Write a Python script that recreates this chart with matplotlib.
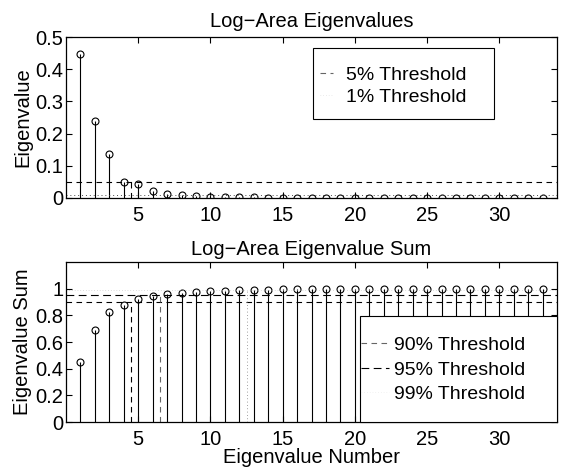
import matplotlib
matplotlib.use('Agg')
import matplotlib.pyplot as plt
import matplotlib.patches as mpatches
from matplotlib.lines import Line2D

plt.rcParams['font.family'] = ['Liberation Sans', 'DejaVu Sans']

# eigenvalue number 1..33
numero = list(range(1, 34))
autovalores = [0.448, 0.239, 0.137, 0.049, 0.043, 0.023, 0.011, 0.010, 0.007,
               0.004, 0.003, 0.002, 0.0015, 0.0012, 0.001, 0.0009, 0.0008,
               0.0007, 0.0006, 0.0005, 0.0005, 0.0004, 0.0004, 0.0003, 0.0003,
               0.0003, 0.0002, 0.0002, 0.0002, 0.0002, 0.0001, 0.0001, 0.0001]
suma = [0.448, 0.693, 0.829, 0.879, 0.927, 0.947, 0.960, 0.972, 0.977, 0.982,
        0.985, 0.990, 0.992, 0.994, 0.995, 0.996, 0.997, 0.997, 0.998, 0.998,
        0.998, 0.999, 0.999, 0.999, 0.999, 0.999, 1.0, 1.0, 1.0, 1.0, 1.0,
        1.0, 1.0]

umbral_sup = [0.05, 0.01]
etiq_sup = ['5% Threshold', '1% Threshold']
corte_sup = 4.5

umbral_inf = [0.90, 0.95, 0.99]
etiq_inf = ['90% Threshold', '95% Threshold', '99% Threshold']
corte_inf = [4.5, 6.5, 12.5]

xticks = [5, 10, 15, 20, 25, 30]
yticks_sup = [0, 0.1, 0.2, 0.3, 0.4, 0.5]
ylab_sup = ['0', '0.1', '0.2', '0.3', '0.4', '0.5']
yticks_inf = [0, 0.2, 0.4, 0.6, 0.8, 1.0]
ylab_inf = ['0', '0.2', '0.4', '0.6', '0.8', '1']

FS = 14.5
FS_LEY = 14
DASH = (0, (5, 4))
DASH_L = (0, (7, 4))
DOT = (0, (1, 3))

fig = plt.figure(figsize=(5.61, 4.69), dpi=100)
ax1 = fig.add_axes([0.1176, 0.578, 0.8754, 0.343])
ax2 = fig.add_axes([0.1176, 0.100, 0.8754, 0.341])


def estilo(ax, yt, yl, ylim):
    ax.set_xlim(0, 34)
    ax.set_ylim(*ylim)
    ax.set_xticks(xticks)
    ax.set_yticks(yt)
    ax.set_yticklabels(yl)
    ax.tick_params(direction='in', top=True, right=True, length=4,
                   width=0.8, labelsize=FS)
    ax.tick_params(axis='x', pad=6)
    ax.tick_params(axis='y', pad=2)
    for s in ax.spines.values():
        s.set_linewidth(0.9)


def tallos(ax, x, y):
    ml, sl, bl = ax.stem(x, y, linefmt='k-', markerfmt='ko', basefmt=' ')
    sl.set_linewidth(0.8)
    ml.set_markerfacecolor('none')
    ml.set_markersize(5)
    ml.set_markeredgewidth(0.8)


def caja(ax, x0, y0, x1, y1):
    ax.add_patch(mpatches.Rectangle((x0, y0), x1 - x0, y1 - y0,
                                    transform=ax.transAxes, facecolor='white',
                                    edgecolor='k', linewidth=0.8, zorder=5,
                                    clip_on=False))


# ---- top panel
tallos(ax1, numero, autovalores)
ax1.axhline(umbral_sup[0], color='k', lw=0.8, ls=DASH)
ax1.axhline(umbral_sup[1], color='0.3', lw=0.7, ls=DOT)
ax1.plot([corte_sup, corte_sup], [0, umbral_sup[0]], color='k', lw=0.8, ls=DASH)
estilo(ax1, yticks_sup, ylab_sup, (0, 0.5))
ax1.set_title('Log\u2212Area Eigenvalues', fontsize=FS, pad=7)
ax1.set_ylabel('Eigenvalue', fontsize=FS, labelpad=2)
caja(ax1, 0.503, 0.49, 0.872, 0.932)
h1 = [Line2D([0], [0], color='0.4', lw=0.8, ls=DASH),
      Line2D([0], [0], color='0.85', lw=0.5, ls=DOT)]
ley1 = ax1.legend(h1, etiq_sup, loc='upper left', bbox_to_anchor=(0.517, 0.82),
                  fontsize=FS_LEY, frameon=False, borderpad=0,
                  handlelength=0.7, handletextpad=0.65, labelspacing=0.22,
                  borderaxespad=0)
ley1.set_zorder(6)

# ---- bottom panel
tallos(ax2, numero, suma)
ax2.axhline(umbral_inf[0], color='k', lw=0.8, ls=DASH)
ax2.axhline(umbral_inf[1], color='k', lw=0.8, ls=DASH_L)
ax2.axhline(umbral_inf[2], color='0.75', lw=0.5, ls=DOT)
ax2.plot([corte_inf[0], corte_inf[0]], [0, umbral_inf[0]], color='k', lw=0.8, ls=DASH)
ax2.plot([corte_inf[1], corte_inf[1]], [0, umbral_inf[1]], color='0.4', lw=0.8, ls=DASH)
ax2.plot([corte_inf[2], corte_inf[2]], [0, umbral_inf[2]], color='0.5', lw=0.6, ls=DOT)
estilo(ax2, yticks_inf, ylab_inf, (0, 1.2))
ax2.set_title('Log\u2212Area Eigenvalue Sum', fontsize=FS, pad=5)
ax2.set_ylabel('Eigenvalue Sum', fontsize=FS, labelpad=2)
ax2.set_xlabel('Eigenvalue Number', fontsize=FS, labelpad=-1)
caja(ax2, 0.598, 0.0, 1.0, 0.6625)
h2 = [Line2D([0], [0], color='0.4', lw=0.8, ls=DASH),
      Line2D([0], [0], color='k', lw=0.8, ls=DASH_L),
      Line2D([0], [0], color='0.9', lw=0.5, ls=DOT)]
ley2 = ax2.legend(h2, etiq_inf, loc='upper left', bbox_to_anchor=(0.6, 0.535),
                  fontsize=FS_LEY, frameon=False, borderpad=0,
                  handlelength=1.45, handletextpad=0.26, labelspacing=0.35,
                  borderaxespad=0)
ley2.set_zorder(6)

fig.savefig('out.png', dpi=100)
